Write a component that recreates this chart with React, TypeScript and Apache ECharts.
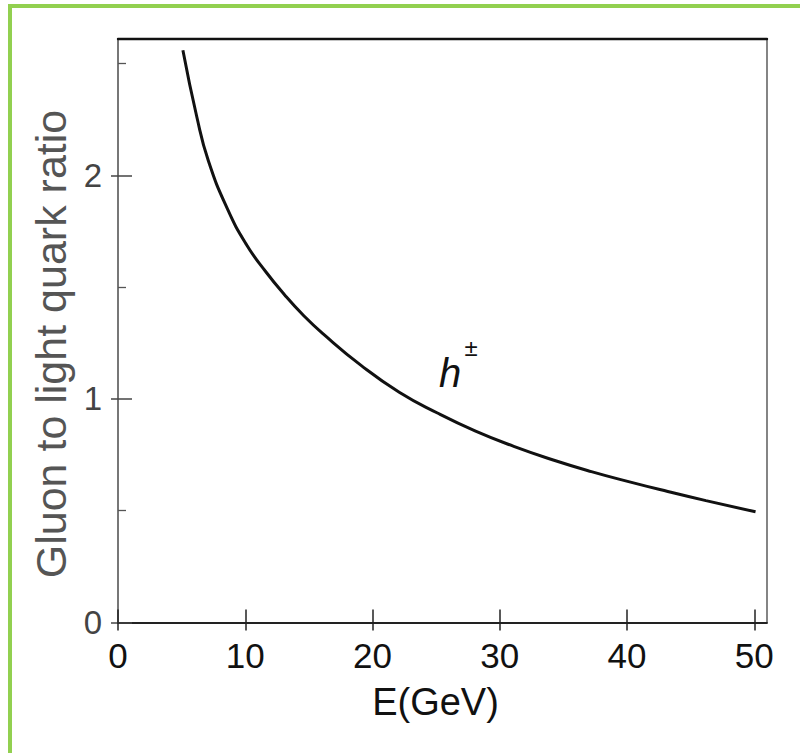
import React, { useEffect, useRef } from "react";
import * as echarts from "echarts";

// Energy E (GeV)
const energies = [5.1, 6.2, 7.1, 8.6, 10.1, 11.6, 13.1, 14.6, 16.1, 19.1, 22.1, 25.1, 28.1, 31.1, 34.2, 37.2, 40.2, 43.2, 46.2, 50.1];
// Gluon to light quark ratio for h±
const ratios = [2.56, 2.26, 2.065, 1.85, 1.69, 1.57, 1.465, 1.372, 1.292, 1.15, 1.03, 0.937, 0.856, 0.788, 0.727, 0.675, 0.629, 0.586, 0.545, 0.495];

const xTicks = [0, 10, 20, 30, 40, 50];
const yTicks = [0, 1, 2];
const yMinorTicks = [0.5, 1.5, 2.5];

const xName = "E(GeV)";
const yName = "Gluon to light quark ratio";
const curveLabel = "h";
const curveLabelSup = "±";

const FONT = "'Liberation Sans', Arial, sans-serif";

export default function App() {
  const ref = useRef<HTMLDivElement>(null);

  useEffect(() => {
    if (!ref.current) return;
    const chart = echarts.init(ref.current, undefined, { renderer: "svg" });
    const data = energies.map((e, i) => [e, ratios[i]]);
    const hidden = { show: false };
    chart.setOption({
      animation: false,
      backgroundColor: "#ffffff",
      grid: { left: 118, right: 33, top: 39, bottom: 130.5, containLabel: false },
      xAxis: [
        {
          type: "value",
          min: 0,
          max: 51,
          interval: 10,
          position: "bottom",
          name: xName,
          nameLocation: "middle",
          nameGap: 60,
          nameTextStyle: { fontFamily: FONT, fontSize: 38, color: "#111", padding: [0, 14, 0, 0] },
          axisLine: { show: true, onZero: false, lineStyle: { color: "#222", width: 1.8 } },
          axisTick: { show: true, inside: false, length: 8, customValues: xTicks, lineStyle: { color: "#222", width: 1.5 } },
          axisLabel: { show: true, customValues: xTicks, margin: 15, fontFamily: FONT, fontSize: 35, color: "#111" },
          splitLine: hidden,
        },
        {
          type: "value",
          min: 0,
          max: 51,
          interval: 10,
          position: "bottom",
          axisLine: { show: false, onZero: false },
          axisTick: { show: true, inside: true, length: 13, customValues: xTicks, lineStyle: { color: "#222", width: 1.5 } },
          axisLabel: hidden,
          splitLine: hidden,
        },
        {
          type: "value",
          min: 0,
          max: 51,
          position: "top",
          axisLine: { show: true, onZero: false, lineStyle: { color: "#111", width: 2.4 } },
          axisTick: hidden,
          axisLabel: hidden,
          splitLine: hidden,
        },
      ],
      yAxis: [
        {
          type: "value",
          min: 0,
          max: 2.61,
          interval: 1,
          position: "left",
          axisLine: { show: true, onZero: false, lineStyle: { color: "#555", width: 1.6 } },
          axisTick: { show: true, inside: false, length: 7, customValues: yTicks, lineStyle: { color: "#444", width: 1.5 } },
          axisLabel: { show: true, customValues: yTicks, margin: 16, fontFamily: FONT, fontSize: 33, color: "#444" },
          splitLine: hidden,
        },
        {
          type: "value",
          min: 0,
          max: 2.61,
          interval: 1,
          position: "left",
          axisLine: { show: false, onZero: false },
          axisTick: { show: true, inside: true, length: 14, customValues: yTicks, lineStyle: { color: "#444", width: 1.5 } },
          axisLabel: hidden,
          splitLine: hidden,
        },
        {
          type: "value",
          min: 0,
          max: 2.61,
          interval: 0.5,
          position: "left",
          axisLine: { show: false, onZero: false },
          axisTick: { show: true, inside: true, length: 8, customValues: yMinorTicks, lineStyle: { color: "#555", width: 1.3 } },
          axisLabel: hidden,
          splitLine: hidden,
        },
        {
          type: "value",
          min: 0,
          max: 2.61,
          position: "right",
          axisLine: { show: true, onZero: false, lineStyle: { color: "#666", width: 1.6 } },
          axisTick: hidden,
          axisLabel: hidden,
          splitLine: hidden,
        },
      ],
      series: [
        {
          type: "line",
          name: "h±",
          xAxisIndex: 0,
          yAxisIndex: 0,
          data,
          smooth: 0.5,
          showSymbol: false,
          symbol: "none",
          lineStyle: { color: "#111", width: 3 },
        },
      ],
      graphic: [
        { type: "rect", left: 8, top: 4, shape: { width: 4, height: 760 }, style: { fill: "#92D050" }, silent: true },
        { type: "rect", left: 8, top: 4, shape: { width: 800, height: 4 }, style: { fill: "#92D050" }, silent: true },
        {
          type: "text",
          x: 51,
          y: 344,
          rotation: Math.PI / 2,
          style: {
            text: yName,
            font: `43px ${FONT}`,
            fill: "#555",
            textAlign: "center",
            textVerticalAlign: "middle",
          },
          silent: true,
        },
        {
          type: "text",
          x: 439,
          y: 373,
          style: {
            text: curveLabel,
            font: `italic 40px ${FONT}`,
            fill: "#111",
            textAlign: "left",
            textVerticalAlign: "middle",
          },
          silent: true,
        },
        {
          type: "text",
          x: 471,
          y: 347,
          style: {
            text: curveLabelSup,
            font: `24px ${FONT}`,
            fill: "#111",
            textAlign: "center",
            textVerticalAlign: "middle",
          },
          silent: true,
        },
      ],
    });
    return () => chart.dispose();
  }, []);

  return (
    <div
      ref={ref}
      style={{ position: "fixed", left: 0, top: 0, width: 800, height: 753, background: "#fff" }}
    />
  );
}
